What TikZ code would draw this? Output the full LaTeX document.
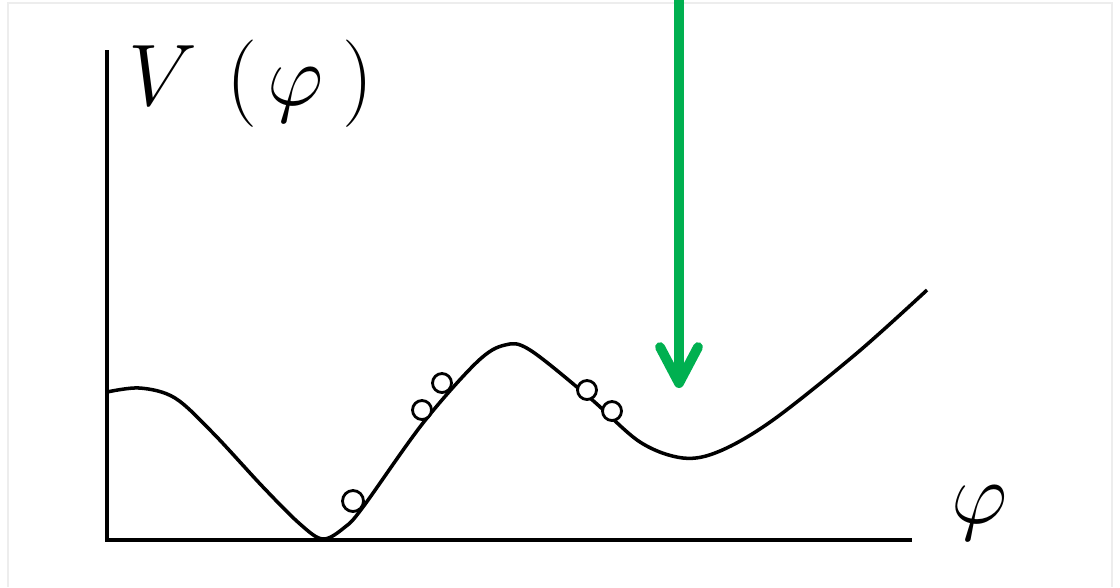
\documentclass[tikz,border=0pt]{standalone}
\definecolor{mGreen}{HTML}{00B050}
\definecolor{mFrame}{HTML}{EDEDED}
\usepackage{amsmath,amssymb}
\usepackage{tikz}
\usetikzlibrary{arrows.meta}

\begin{document}
\begin{tikzpicture}[x=0.1mm, y=-0.1mm, every node/.style={font=\fontsize{25}{30}\selectfont, inner sep=0pt}]
      \useasboundingbox (0,0) rectangle (1120,587);
      \draw[mFrame, line width=0.6pt] (8,587) -- (8,3) -- (1112,3) -- (1112,587);
      % axes
      \coordinate (origin) at (107,540);
      \coordinate (ytop) at (107,50);
      \coordinate (xend) at (912,540);
      \draw[line width=1.1pt] (ytop) -- (origin) -- (xend);
      \node[anchor=base west] (Vlabel) at (128,105) {$V\mkern6mu(\mkern2mu\varphi\mkern4mu)$};
      \node (philabel) at (980,513) {$\varphi$};
      % potential
      \draw[line width=1pt] plot[smooth, tension=0.55] coordinates {
        (107,392) (140,388) (175,398) (213,433) (263,487) (300,524) (323,539)
        (345,527) (363,507) (423,423) (477,362) (505,345) (530,350) (590,398)
        (640,442) (683,458) (720,451) (773,420) (857,353) (927,290)};
      % balls
      \foreach \bx/\by/\br in {353/501/1.05, 422/410/0.95, 442/383/0.95, 587/390/0.95, 612/411/0.95}
        \draw[line width=0.8pt, fill=white] (\bx,\by) circle (\br mm);
      % arrow
      \coordinate (arrowtop) at (679,-5);
      \coordinate (arrowtip) at (679,388);
      \draw[mGreen, line width=2.8pt, -{Straight Barb[length=3.6mm, width=3.8mm, line cap=round, line join=round]}]
        (arrowtop) -- (arrowtip);
    \end{tikzpicture}
\end{document}
